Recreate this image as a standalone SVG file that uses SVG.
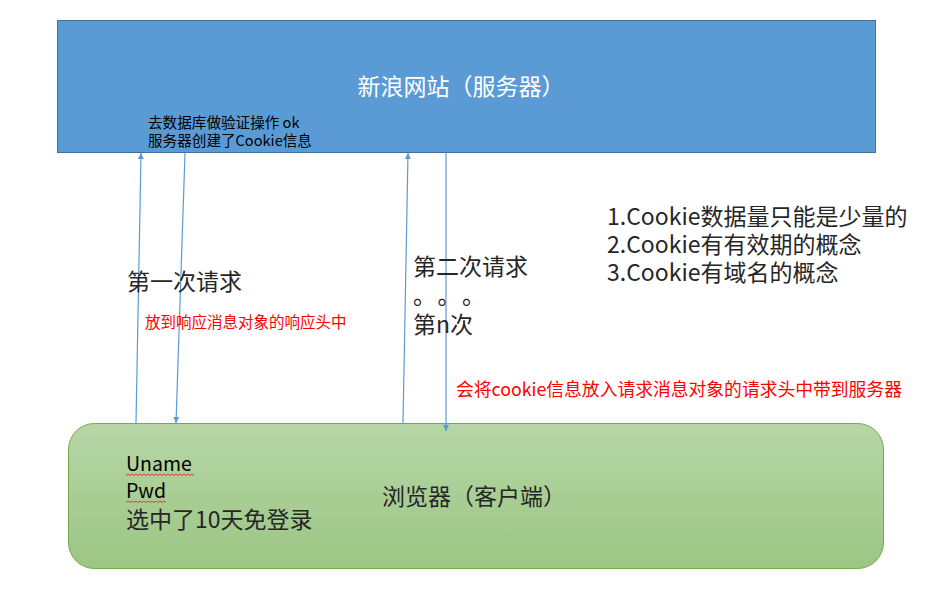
<svg xmlns="http://www.w3.org/2000/svg" width="944" height="590" viewBox="0 0 944 590">
<style>
text{font-family:"Noto Sans CJK SC","Liberation Sans",sans-serif}
.big{font-size:23px;fill:#262626}
.mid{font-size:14.6px;fill:#000}
.red{fill:#ff0000}
.conn{stroke:#5B9BD5;stroke-width:1.2;fill:none}
.wavy{stroke:#e03030;stroke-width:0.9;fill:none}
</style>
<defs>
<linearGradient id="g" x1="0" y1="0" x2="0" y2="1">
<stop offset="0" stop-color="#B6D6A6"/>
<stop offset="1" stop-color="#9CC684"/>
</linearGradient>
<marker id="ah" viewBox="0 0 10 10" refX="10" refY="5" markerWidth="6" markerHeight="6" markerUnits="userSpaceOnUse" orient="auto">
<path d="M0,0 L10,5 L0,10 z" fill="#5B9BD5"/>
</marker>
</defs>
<g id="server">
<rect x="57.5" y="20.5" width="818" height="132" fill="#5B9BD5" stroke="#41719C" stroke-width="1"/>
<text x="461" y="95" font-size="23" fill="#fff" text-anchor="middle">新浪网站（服务器）</text>
<text class="mid" x="148" y="128">去数据库做验证操作 ok</text>
<text class="mid" x="148" y="146">服务器创建了Cookie信息</text>
</g>
<g id="browser">
<rect x="68.5" y="423.5" width="815" height="145" rx="26" ry="26" fill="url(#g)" stroke="#70AD47" stroke-width="1"/>
<text x="126" y="471" font-size="19.5" fill="#000">Uname</text>
<path class="wavy" d="M126,475.5 l2,-1.5 l2,1.5 l2,-1.5 l2,1.5 l2,-1.5 l2,1.5 l2,-1.5 l2,1.5 l2,-1.5 l2,1.5 l2,-1.5 l2,1.5 l2,-1.5 l2,1.5 l2,-1.5 l2,1.5 l2,-1.5 l2,1.5 l2,-1.5 l2,1.5 l2,-1.5 l2,1.5 l2,-1.5 l2,1.5 l2,-1.5 l2,1.5 l2,-1.5 l2,1.5 l2,-1.5 l2,1.5 l2,-1.5 l2,1.5 l2,-1.5 l2,1.5"/>
<text x="126" y="498" font-size="19.5" fill="#000">Pwd</text>
<path class="wavy" d="M126,502.5 l2,-1.5 l2,1.5 l2,-1.5 l2,1.5 l2,-1.5 l2,1.5 l2,-1.5 l2,1.5 l2,-1.5 l2,1.5 l2,-1.5 l2,1.5 l2,-1.5 l2,1.5 l2,-1.5 l2,1.5 l2,-1.5 l2,1.5 l2,-1.5 l2,1.5"/>
<text class="big" x="126" y="528" fill="#000">选中了10天免登录</text>
<text class="big" x="382" y="505">浏览器（客户端）</text>
</g>
<g id="connectors">
<line class="conn" x1="136" y1="423" x2="141" y2="153" marker-end="url(#ah)"/>
<line class="conn" x1="185" y1="153" x2="176" y2="423" marker-end="url(#ah)"/>
<line class="conn" x1="403" y1="423" x2="408" y2="153" marker-end="url(#ah)"/>
<line class="conn" x1="446" y1="153" x2="446" y2="431" marker-end="url(#ah)"/>
</g>
<g id="labels">
<text class="big" x="127" y="290">第一次请求</text>
<text class="red" x="145" y="328" font-size="15.5">放到响应消息对象的响应头中</text>
<text class="big" x="413" y="275">第二次请求</text>
<text class="big" x="413" y="304" letter-spacing="13">。。。</text>
<text class="big" x="413" y="333">第n次</text>
<text class="red" x="456" y="396" font-size="17.8">会将cookie信息放入请求消息对象的请求头中带到服务器</text>
</g>
<g id="notes">
<text class="big" x="607" y="225" font-size="22.8">1.Cookie数据量只能是少量的</text>
<text class="big" x="607" y="253" font-size="22.8">2.Cookie有有效期的概念</text>
<text class="big" x="607" y="281" font-size="22.8">3.Cookie有域名的概念</text>
</g>
</svg>
